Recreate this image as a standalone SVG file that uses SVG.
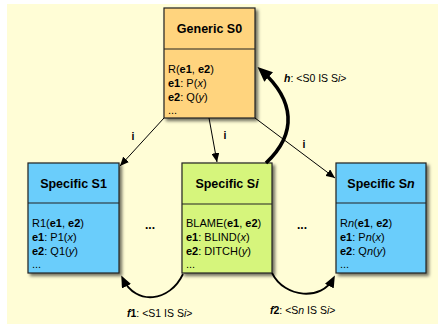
<svg xmlns="http://www.w3.org/2000/svg" width="438" height="324" viewBox="0 0 438 324">
<style>
text{font-family:"Liberation Sans",Arial,sans-serif;fill:#000}
.title{font-size:12.5px;font-weight:bold;text-anchor:middle}
.body{font-size:11px}
.lbl{font-size:10.5px}
.b{font-weight:bold}
.i{font-style:italic}
.box{stroke:#222;stroke-width:1.2}
.div{stroke:#222;stroke-width:1.2}
.thin{fill:none;stroke:#000;stroke-width:1}
.mid{fill:none;stroke:#000;stroke-width:1.8}
.thick{fill:none;stroke:#000;stroke-width:3.6}
.dots{font-size:12px;font-weight:bold;text-anchor:middle}
</style>
<defs>
<filter id="sh" x="-10%" y="-10%" width="130%" height="130%">
<feDropShadow dx="2.5" dy="2.5" stdDeviation="1.5" flood-color="#000" flood-opacity="0.55"/>
</filter>
<marker id="a1" markerUnits="userSpaceOnUse" markerWidth="10" markerHeight="8" refX="9" refY="4" orient="auto">
<path d="M0,0 L9,4 L0,8 z" fill="#000"/>
</marker>
<marker id="a2" markerUnits="userSpaceOnUse" markerWidth="12" markerHeight="10" refX="8" refY="5" orient="auto">
<path d="M0,0 L12,5 L0,10 z" fill="#000"/>
</marker>
<marker id="a3" markerUnits="userSpaceOnUse" markerWidth="15" markerHeight="13" refX="9" refY="6.5" orient="auto">
<path d="M0,0 L15,6.5 L0,13 z" fill="#000"/>
</marker>
</defs>
<rect x="7" y="4" width="431" height="320" fill="#FFFDD6"/>

<g id="S0">
<rect class="box" x="164" y="8" width="91" height="110" fill="#FFD47E" filter="url(#sh)"/>
<line class="div" x1="164" y1="49" x2="255" y2="49"/>
<text class="title" x="209.5" y="33">Generic S0</text>
<text class="body" x="168" y="73">R(<tspan class="b">e1</tspan>, <tspan class="b">e2</tspan>)</text>
<text class="body" x="168" y="87"><tspan class="b">e1</tspan>: P(<tspan class="i">x</tspan>)</text>
<text class="body" x="168" y="101"><tspan class="b">e2</tspan>: Q(<tspan class="i">y</tspan>)</text>
<text class="body" x="168" y="114">...</text>
</g>

<g id="S1">
<rect class="box" x="28" y="163" width="91" height="110" fill="#6ACDFB" filter="url(#sh)"/>
<line class="div" x1="28" y1="203" x2="119" y2="203"/>
<text class="title" x="73.5" y="188">Specific S1</text>
<text class="body" x="32" y="227">R1(<tspan class="b">e1</tspan>, <tspan class="b">e2</tspan>)</text>
<text class="body" x="32" y="241"><tspan class="b">e1</tspan>: P1(<tspan class="i">x</tspan>)</text>
<text class="body" x="32" y="255"><tspan class="b">e2</tspan>: Q1(<tspan class="i">y</tspan>)</text>
<text class="body" x="32" y="268">...</text>
</g>

<g id="Si">
<rect class="box" x="182" y="163" width="90" height="110" fill="#D6F57C" filter="url(#sh)"/>
<line class="div" x1="182" y1="204" x2="272" y2="204"/>
<text class="title" x="227" y="188">Specific S<tspan class="i">i</tspan></text>
<text class="body" x="186" y="227">BLAME(<tspan class="b">e1</tspan>, <tspan class="b">e2</tspan>)</text>
<text class="body" x="186" y="241"><tspan class="b">e1</tspan>: BLIND(<tspan class="i">x</tspan>)</text>
<text class="body" x="186" y="255"><tspan class="b">e2</tspan>: DITCH(<tspan class="i">y</tspan>)</text>
<text class="body" x="186" y="268">...</text>
</g>

<g id="Sn">
<rect class="box" x="336" y="163" width="90" height="110" fill="#6ACDFB" filter="url(#sh)"/>
<line class="div" x1="336" y1="203" x2="426" y2="203"/>
<text class="title" x="381" y="188">Specific S<tspan class="i">n</tspan></text>
<text class="body" x="340" y="227">R<tspan class="i">n</tspan>(<tspan class="b">e1</tspan>, <tspan class="b">e2</tspan>)</text>
<text class="body" x="340" y="241"><tspan class="b">e1</tspan>: P<tspan class="i">n</tspan>(<tspan class="i">x</tspan>)</text>
<text class="body" x="340" y="255"><tspan class="b">e2</tspan>: Q<tspan class="i">n</tspan>(<tspan class="i">y</tspan>)</text>
<text class="body" x="340" y="268">...</text>
</g>

<text class="dots" x="150" y="229">...</text>
<text class="dots" x="302" y="229">...</text>

<g id="connectors">
<line class="thin" x1="164" y1="118" x2="120" y2="166" marker-end="url(#a1)"/>
<text class="lbl b" x="133" y="140" text-anchor="middle">i</text>
<line class="thin" x1="209" y1="118" x2="217" y2="162" marker-end="url(#a1)"/>
<text class="lbl b" x="225" y="139" text-anchor="middle">i</text>
<line class="thin" x1="255" y1="118" x2="335" y2="178" marker-end="url(#a1)"/>
<text class="lbl b" x="304" y="148" text-anchor="middle">i</text>

<path class="thick" d="M266 163 C298 133 294 100 262 71" marker-end="url(#a3)"/>
<text class="lbl" x="284" y="82"><tspan class="b i">h</tspan>: &lt;S0 IS S<tspan class="i">i</tspan>&gt;</text>

<path class="mid" d="M183 274 C170 302 136 306 123 279" marker-end="url(#a2)"/>
<text class="lbl" x="127" y="317"><tspan class="b i">f</tspan><tspan class="b">1</tspan>: &lt;S1 IS S<tspan class="i">i</tspan>&gt;</text>

<path class="mid" d="M272 273 C285 299 322 300 333 279" marker-end="url(#a2)"/>
<text class="lbl" x="270" y="314"><tspan class="b i">f</tspan><tspan class="b">2</tspan>: &lt;S<tspan class="i">n</tspan> IS S<tspan class="i">i</tspan>&gt;</text>
</g>
</svg>
